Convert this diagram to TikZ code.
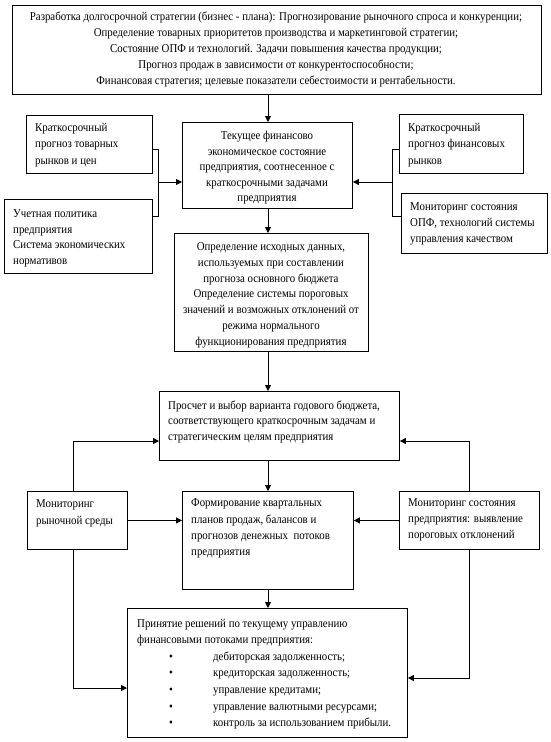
\documentclass[tikz,border=0pt]{standalone}
\usepackage{fontspec}
\setmainfont{Liberation Serif}[FakeStretch=0.905]
\usetikzlibrary{arrows.meta}
\newcommand\fsz[1]{\fontsize{12}{#1}\selectfont}
\begin{document}
\begin{tikzpicture}[x=1pt,y=-1pt,
  box/.style={draw, line width=0.9pt, inner sep=0pt, anchor=north west},
  ltxt/.style={inner sep=0pt, anchor=north west, align=left},
  ctxt/.style={inner sep=0pt, anchor=north, align=center},
  arr/.style={line width=0.9pt, -{Triangle[length=6pt,width=6pt]}},
  ln/.style={line width=0.9pt}]
\fill[white] (0,0) rectangle (551,742);
\useasboundingbox (0,0) rectangle (551,742);
% boxes
\node[box, minimum width=529pt, minimum height=89pt] (top) at (12,5) {};
\node[box, minimum width=170pt, minimum height=86pt] (tek) at (182,122) {};
\node[box, minimum width=126pt, minimum height=58pt] (lb1) at (26,115) {};
\node[box, minimum width=148pt, minimum height=74pt] (lb2) at (4,199) {};
\node[box, minimum width=124pt, minimum height=59pt] (rb1) at (399,114) {};
\node[box, minimum width=146pt, minimum height=60pt] (rb2) at (401,193) {};
\node[box, minimum width=194pt, minimum height=118pt] (opr) at (174,233) {};
\node[box, minimum width=240pt, minimum height=69pt] (pro) at (159,391) {};
\node[box, minimum width=100pt, minimum height=58pt] (mr) at (27,491) {};
\node[box, minimum width=171pt, minimum height=98pt] (fo) at (182,491) {};
\node[box, minimum width=140pt, minimum height=58pt] (ms) at (399,491) {};
\node[box, minimum width=280pt, minimum height=129pt] (pri) at (127,608) {};
% texts
\node[ctxt, font=\fsz{16}] (topt) at (276,9.3) {\strut Разработка долгосрочной стратегии (бизнес - плана): Прогнозирование рыночного спроса и конкуренции;\\
Определение товарных приоритетов производства и маркетинговой стратегии;\\
Состояние ОПФ и технологий. Задачи повышения качества продукции;\\
Прогноз продаж в зависимости от конкурентоспособности;\\
Финансовая стратегия; целевые показатели себестоимости и рентабельности.};
\node[ctxt, font=\fsz{15.5}] (tekt) at (267,128.8) {\strut Текущее финансово\\ экономическое состояние\\ предприятия, соотнесенное с\\ краткосрочными задачами\\ предприятия};
\node[ltxt, font=\fsz{16.5}] (lb1t) at (35,119.3) {\strut Краткосрочный\\ прогноз товарных\\ рынков и цен};
\node[ltxt, font=\fsz{15.7}] (lb2t) at (13,206.3) {\strut Учетная политика\\ предприятия\\ Система экономических\\ нормативов};
\node[ltxt, font=\fsz{16.5}] (rb1t) at (408,119.3) {\strut Краткосрочный\\ прогноз финансовых\\ рынков};
\node[ltxt, font=\fsz{16}] (rb2t) at (410,199.3) {\strut Мониторинг состояния\\ ОПФ, технологий системы\\ управления качеством};
\node[ctxt, font=\fsz{15.8}] (oprt) at (271,239.3) {\strut Определение исходных данных,\\ используемых при составлении\\ прогноза основного бюджета\\ Определение системы пороговых\\ значений и возможных отклонений от\\ режима нормального\\ функционирования предприятия};
\node[ltxt, font=\fsz{15.5}] (prot) at (168,398.3) {\strut Просчет и выбор варианта годового бюджета,\\ соответствующего краткосрочным задачам и\\ стратегическим целям предприятия};
\node[ltxt, font=\fsz{17}] (mrt) at (36,495.3) {\strut Мониторинг\\ рыночной среды};
\node[ltxt, font=\fsz{16.3}] (fot) at (191,495.3) {\strut Формирование квартальных\\ планов продаж, балансов и\\ прогнозов денежных\ \ потоков\\ предприятия};
\node[ltxt, font=\fsz{16}] (mst) at (408,495.3) {\strut Мониторинг состояния\\ предприятия: выявление\\ пороговых отклонений};
\node[ltxt, font=\fsz{16.6}] (prit) at (137,615.3) {\strut Принятие решений по текущему управлению\\ финансовыми потоками предприятия:\\
\hspace*{32pt}\makebox[44pt][l]{\textbullet}дебиторская задолженность;\\
\hspace*{32pt}\makebox[44pt][l]{\textbullet}кредиторская задолженность;\\
\hspace*{32pt}\makebox[44pt][l]{\textbullet}управление кредитами;\\
\hspace*{32pt}\makebox[44pt][l]{\textbullet}управление валютными ресурсами;\\
\hspace*{32pt}\makebox[44pt][l]{\textbullet}контроль за использованием прибыли.};
% helper coordinates
\coordinate (ax) at (268,0);
\coordinate (jl1) at (158,149); \coordinate (jl2) at (158,216); \coordinate (jl) at (158,182);
\coordinate (jr1) at (392,149); \coordinate (jr2) at (392,216); \coordinate (jr) at (392,182);
\coordinate (lx) at (73,441); \coordinate (lx2) at (73,688);
\coordinate (rx) at (469,441); \coordinate (rx2) at (469,678);
% main vertical arrows
\draw[arr] (top.south -| ax) -- (tek.north -| ax);
\draw[arr] (tek.south -| ax) -- (opr.north -| ax);
\draw[arr] (opr.south -| ax) -- (pro.north -| ax);
\draw[arr] (pro.south -| ax) -- (fo.north -| ax);
\draw[arr] (fo.south -| ax) -- (pri.north -| ax);
% brackets
\draw[ln] (lb1.east |- jl1) -- (jl1) -- (jl2) -- (lb2.east |- jl2);
\draw[arr] (jl) -- (tek.west |- jl);
\draw[ln] (rb1.west |- jr1) -- (jr1) -- (jr2) -- (rb2.west |- jr2);
\draw[arr] (jr) -- (tek.east |- jr);
% loops
\draw[arr] (mr.north -| lx) -- (lx) -- (pro.west |- lx);
\draw[arr] (mr.south -| lx) -- (lx2) -- (pri.west |- lx2);
\draw[arr] (mr.east) -- (fo.west |- mr.east);
\draw[arr] (ms.north -| rx) -- (rx) -- (pro.east |- rx);
\draw[arr] (ms.south -| rx) -- (rx2) -- (pri.east |- rx2);
\draw[arr] (ms.west) -- (fo.east |- ms.west);
\end{tikzpicture}
\end{document}
